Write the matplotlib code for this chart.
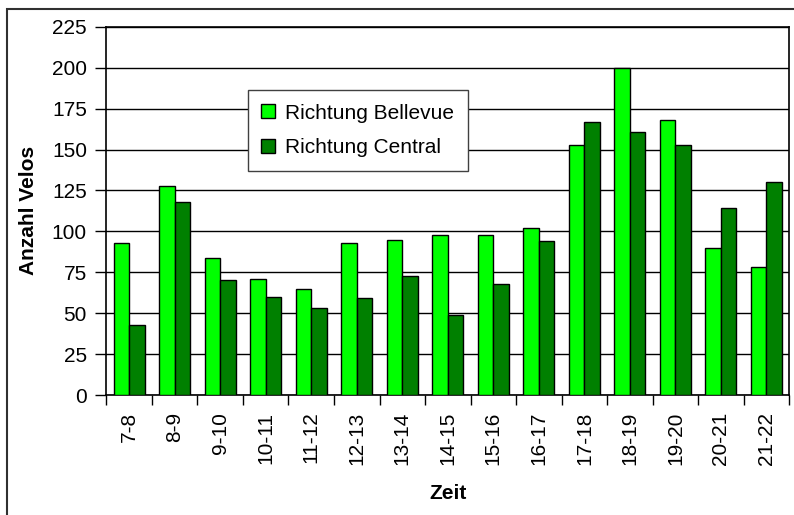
import numpy as np
import matplotlib
matplotlib.use("Agg")
import matplotlib.pyplot as plt
from matplotlib.patches import Rectangle

plt.rcParams['font.family'] = ['Liberation Sans', 'DejaVu Sans']

zeit = ["7-8", "8-9", "9-10", "10-11", "11-12", "12-13", "13-14", "14-15",
        "15-16", "16-17", "17-18", "18-19", "19-20", "20-21", "21-22"]
bellevue = [93, 128, 84, 71, 65, 93, 95, 98, 98, 102, 153, 200, 168, 90, 78]
central = [43, 118, 70, 60, 53, 59, 73, 49, 68, 94, 167, 161, 153, 114, 130]

fs = 15

fig = plt.figure(figsize=(7.94, 5.15), dpi=100)
ax = fig.add_axes([0.134, 0.233, 0.86, 0.715])

x = np.arange(len(zeit))
w = 0.34
ax.bar(x - w / 2, bellevue, w, color="#00ff00", edgecolor="black",
       linewidth=1.0, label="Richtung Bellevue", zorder=3)
ax.bar(x + w / 2, central, w, color="#008000", edgecolor="black",
       linewidth=1.0, label="Richtung Central", zorder=3)

ax.set_xlim(-0.5, len(zeit) - 0.5)
ax.set_ylim(0, 225)
ax.set_yticks(np.arange(0, 226, 25))
ax.yaxis.grid(True, color="black", linewidth=1.0, zorder=0)
ax.tick_params(axis="y", length=8, width=1, labelsize=fs, pad=6)

ax.set_xticks(x)
ax.set_xticklabels(zeit, rotation=90, fontsize=fs)
ax.set_xticks(np.arange(-0.5, len(zeit)), minor=True)
ax.tick_params(axis="x", which="major", length=0, pad=12)
ax.tick_params(axis="x", which="minor", length=7, width=1)

for s in ax.spines.values():
    s.set_linewidth(1.2)
    s.set_color("black")

ax.set_ylabel("Anzahl Velos", fontsize=fs, fontweight="bold", labelpad=10)
ax.set_xlabel("Zeit", fontsize=fs, fontweight="bold", labelpad=14)

leg = ax.legend(loc="upper left", bbox_to_anchor=(0.207, 0.828), fontsize=fs,
                fancybox=False, framealpha=1, edgecolor="#404040",
                handlelength=0.65, handleheight=0.65, handletextpad=0.5,
                labelspacing=0.75, borderpad=0.65, borderaxespad=0)
leg.get_frame().set_linewidth(1.0)
leg.set_zorder(5)

# outer chart border (cropped on right and bottom)
fig.patches.append(Rectangle((7 / 794, -0.1), 1.2, 1 - 9 / 515 + 0.1,
                             transform=fig.transFigure, fill=False,
                             edgecolor="#303030", linewidth=1.5))

fig.savefig("out.png", dpi=100)
